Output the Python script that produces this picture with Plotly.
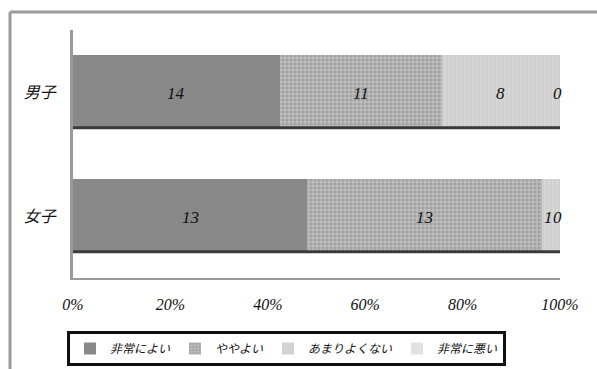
import plotly.graph_objects as go

categories = ["男子", "女子"]
series_names = ["非常によい", "ややよい", "あまりよくない", "非常に悪い"]
values = {
    "非常によい": [14, 13],
    "ややよい": [11, 13],
    "あまりよくない": [8, 1],
    "非常に悪い": [0, 0],
}
tick_vals = [0, 20, 40, 60, 80, 100]
tick_text = ["0%", "20%", "40%", "60%", "80%", "100%"]

colors = ["#898989", "#aaaaaa", "#d2d2d2", "#e2e2e2"]
patterns = [
    dict(shape=""),
    dict(shape=".", bgcolor="#bdbdbd", fgcolor="#848484", size=4, solidity=0.45),
    dict(shape="|", bgcolor="#d6d6d6", fgcolor="#bcbcbc", size=4, solidity=0.25),
    dict(shape=""),
]

totals = [sum(values[s][i] for s in series_names) for i in range(len(categories))]

SERIF = "Liberation Serif, Times New Roman, serif"
CJK = "Noto Sans CJK JP, sans-serif"
BARGAP = 0.4

fig = go.Figure()
annotations = []
cum = [0.0] * len(categories)
for k, s in enumerate(series_names):
    pct = [values[s][i] / totals[i] * 100 for i in range(len(categories))]
    fig.add_trace(go.Bar(
        name=s, y=categories, x=pct, orientation="h",
        marker=dict(color=colors[k], pattern=patterns[k], line=dict(width=0)),
        hoverinfo="skip",
    ))
    for i, c in enumerate(categories):
        center = cum[i] + pct[i] / 2
        xshift = 0
        if pct[i] == 0:
            xshift = -3
        elif pct[i] < 5:
            xshift = -2
        annotations.append(dict(
            x=center, y=c, xref="x", yref="y", text=str(values[s][i]),
            showarrow=False, xshift=xshift, yshift=-1,
            font=dict(family=SERIF, size=17, color="#111", style="italic"),
        ))
        cum[i] += pct[i]

L, T = 73, 30
W, H = 597, 369
pw, ph = 560 - L, 278 - T

def px2x(p):
    return (p - L) / pw

def px2y(p):
    return 1 - (p - T) / ph

shapes = [
    dict(type="line", xref="paper", yref="paper", x0=px2x(10), x1=px2x(600),
         y0=px2y(12), y1=px2y(12), line=dict(color="#9a9a9a", width=3)),
    dict(type="line", xref="paper", yref="paper", x0=px2x(10), x1=px2x(10),
         y0=px2y(12), y1=px2y(372), line=dict(color="#9a9a9a", width=3)),
]
# dark shadow along the lower edge of each bar
half = (1 - BARGAP) / 2
for i, c in enumerate(categories):
    shapes.append(dict(type="line", xref="x", yref="y", x0=0, x1=cum[i],
                       y0=i + half - 0.012, y1=i + half - 0.012,
                       line=dict(color="#3a3a3a", width=3)))

fig.update_layout(
    width=W, height=H,
    margin=dict(l=L, r=W - 560, t=T, b=H - 278, autoexpand=False),
    barmode="stack", bargap=BARGAP,
    paper_bgcolor="white", plot_bgcolor="white",
    showlegend=True,
    legend=dict(
        orientation="h", x=px2x(67), xanchor="left",
        y=px2y(331), yanchor="top",
        bordercolor="#111", borderwidth=3, bgcolor="white",
        font=dict(family=CJK, size=12, color="#111", style="italic"),
        itemclick=False, traceorder="normal",
    ),
    xaxis=dict(
        range=[0, 100], tickvals=tick_vals, ticktext=tick_text,
        showgrid=False, zeroline=False, showline=True, linecolor="#9a9a9a", linewidth=2,
        ticks="", ticklabelstandoff=11, automargin=False,
        tickfont=dict(family=SERIF, size=16, color="#111", style="italic"),
        fixedrange=True,
    ),
    yaxis=dict(
        autorange="reversed", showgrid=False, zeroline=False, showline=True,
        linecolor="#9a9a9a", linewidth=3, ticks="", ticklabelstandoff=11,
        automargin=False,
        tickfont=dict(family=CJK, size=16, color="#111", style="italic"),
        fixedrange=True,
    ),
    annotations=annotations,
    shapes=shapes,
)

fig.write_html("out.html")
